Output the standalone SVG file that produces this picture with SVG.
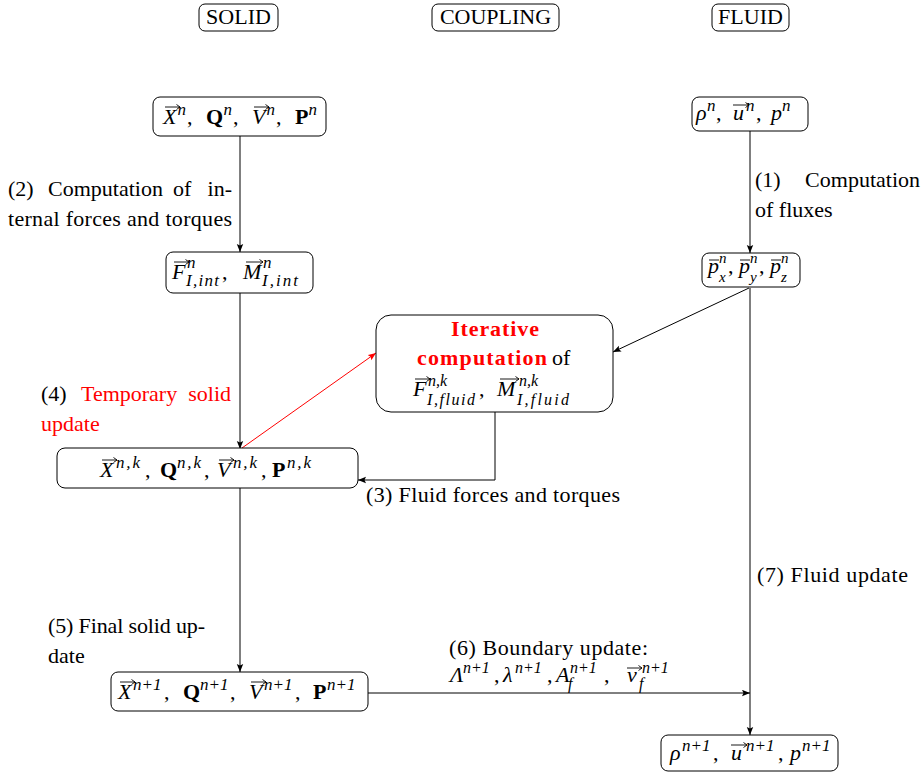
<svg xmlns="http://www.w3.org/2000/svg" width="924" height="774" viewBox="0 0 924 774">
<defs>
<style>
text{font-family:"Liberation Serif","Times New Roman",serif;font-size:22px;fill:#000}
.it{font-style:italic}
.b{font-weight:bold}
.s{font-size:17px}
.s16{font-size:16px}
.s15{font-size:15px}
.red{fill:#f00}
.box{fill:#fff;stroke:#000;stroke-width:1}
.conn{stroke:#000;stroke-width:1;fill:none}
.vec{stroke:#000;stroke-width:0.9;fill:none}
</style>
<marker id="ah" markerUnits="userSpaceOnUse" markerWidth="10" markerHeight="8" refX="8" refY="3.5" orient="auto"><path d="M0,0.3 L8,3.5 L0,6.7 L1.5,3.5z" fill="#000"/></marker>
<marker id="ahr" markerUnits="userSpaceOnUse" markerWidth="10" markerHeight="8" refX="8" refY="3.5" orient="auto"><path d="M0,0.3 L8,3.5 L0,6.7 L1.5,3.5z" fill="#f00"/></marker>
</defs>
<rect width="924" height="774" fill="#fff"/>

<g id="hdr-solid"><rect class="box" x="199" y="4" width="79" height="27" rx="6"/><text x="238.5" y="24" text-anchor="middle">SOLID</text></g>
<g id="hdr-coupling"><rect class="box" x="432" y="4" width="127" height="27" rx="6"/><text x="495.5" y="24" text-anchor="middle">COUPLING</text></g>
<g id="hdr-fluid"><rect class="box" x="712" y="4" width="77" height="27" rx="6"/><text x="750.5" y="24" text-anchor="middle">FLUID</text></g>

<g id="connectors">
<path class="conn" d="M240,136V252" marker-end="url(#ah)"/>
<path class="conn" d="M240,293V449" marker-end="url(#ah)"/>
<path class="conn" d="M750,131V253" marker-end="url(#ah)"/>
<path class="conn" d="M749,288L613,352" marker-end="url(#ah)"/>
<path class="conn" d="M242,448L376,353" style="stroke:#f00" marker-end="url(#ahr)"/>
<path class="conn" d="M495,412V480H358" marker-end="url(#ah)"/>
<path class="conn" d="M240,488V672" marker-end="url(#ah)"/>
<path class="conn" d="M750,288V735" marker-end="url(#ah)"/>
<path class="conn" d="M368,693H750" marker-end="url(#ah)"/>
</g>

<g id="n-solid-n">
<rect class="box" x="153" y="97" width="173" height="39" rx="7"/>
<text class="it" x="163" y="124">X</text><text class="it s" x="177.5" y="115">n</text><text x="187" y="124">,</text>
<text class="b" x="206" y="124">Q</text><text class="it s" x="223.5" y="115">n</text><text x="233" y="124">,</text>
<text class="it" x="252" y="124">V</text><text class="it s" x="266.5" y="115">n</text><text x="276" y="124">,</text>
<text class="b" x="295" y="124">P</text><text class="it s" x="308.5" y="115">n</text>
<path class="vec" d="M165,107H180M176.5,104.5L180,107L176.5,109.5M254,107H269M265.5,104.5L269,107L265.5,109.5"/>
</g>

<g id="n-fluid-n">
<rect class="box" x="692" y="97" width="116" height="34" rx="7"/>
<text class="it" x="696" y="120">ρ</text><text class="it s" x="707" y="111">n</text><text x="716" y="120">,</text>
<text class="it" x="733" y="120">u</text><text class="it s" x="746" y="111">n</text><text x="756" y="120">,</text>
<text class="it" x="771" y="120">p</text><text class="it s" x="782" y="111">n</text>
<path class="vec" d="M733,105H749M745.5,102.5L749,105L745.5,107.5"/>
</g>

<g id="n-internal">
<rect class="box" x="166" y="252" width="147" height="41" rx="7"/>
<text class="it" x="172" y="279">F</text><text class="it s" x="187" y="268">n</text><text class="it s" x="186" y="286" textLength="33">I,int</text><text x="222" y="279">,</text>
<text class="it" x="243" y="279">M</text><text class="it s" x="263" y="268">n</text><text class="it s" x="262" y="286" textLength="36">I,int</text>
<path class="vec" d="M174,262H189M185.5,259.5L189,262L185.5,264.5M246,262H263M259.5,259.5L263,262L259.5,264.5"/>
</g>

<g id="n-fluxes">
<rect class="box" x="702" y="253" width="98" height="34" rx="7"/>
<text class="it" x="708" y="273">p</text><text class="it s15" x="719" y="263">n</text><text class="it s15" x="719" y="282">x</text><text x="728" y="273">,</text>
<text class="it" x="739" y="273">p</text><text class="it s15" x="750" y="263">n</text><text class="it s15" x="750" y="282">y</text><text x="759" y="273">,</text>
<text class="it" x="770" y="273">p</text><text class="it s15" x="781" y="263">n</text><text class="it s15" x="781" y="282">z</text>
<path class="vec" d="M709,260H719M740,260H750M771,260H781"/>
</g>

<g id="n-iterative">
<rect class="box" x="376" y="315" width="237" height="97" rx="15"/>
<text class="b red" x="495" y="336" text-anchor="middle" textLength="88">Iterative</text>
<text class="b red" x="417" y="365" textLength="130">computation</text><text x="552" y="365">of</text>
<text class="it" x="413" y="396">F</text><text class="it s16" x="428" y="386">n,k</text><text class="it s16" x="427" y="405" textLength="48">I,fluid</text><text x="479" y="396">,</text>
<text class="it" x="497" y="396">M</text><text class="it s16" x="519" y="386">n,k</text><text class="it s16" x="517" y="405" textLength="52">I,fluid</text>
<path class="vec" d="M415,379H430M426.5,376.5L430,379L426.5,381.5M500,379H519M515.5,376.5L519,379L515.5,381.5"/>
</g>

<g id="n-solid-nk">
<rect class="box" x="57" y="448" width="301" height="40" rx="8"/>
<text class="it" x="100" y="477">X</text><text class="it s" x="116" y="468" textLength="24">n,k</text><text x="145" y="477">,</text>
<text class="b" x="160" y="477">Q</text><text class="it s" x="177" y="468" textLength="24">n,k</text><text x="204" y="477">,</text>
<text class="it" x="217" y="477">V</text><text class="it s" x="233" y="468" textLength="24">n,k</text><text x="261" y="477">,</text>
<text class="b" x="272" y="477">P</text><text class="it s" x="287" y="468" textLength="24">n,k</text>
<path class="vec" d="M102,460H117M113.5,457.5L117,460L113.5,462.5M219,460H234M230.5,457.5L234,460L230.5,462.5"/>
</g>

<g id="n-solid-n1">
<rect class="box" x="111" y="672" width="257" height="39" rx="7"/>
<text class="it" x="118" y="699">X</text><text class="it s" x="133" y="690">n+1</text><text x="164" y="699">,</text>
<text class="b" x="183" y="699">Q</text><text class="it s" x="200" y="690">n+1</text><text x="230" y="699">,</text>
<text class="it" x="249" y="699">V</text><text class="it s" x="264" y="690">n+1</text><text x="295" y="699">,</text>
<text class="b" x="313" y="699">P</text><text class="it s" x="327" y="690">n+1</text>
<path class="vec" d="M120,682H135M131.5,679.5L135,682L131.5,684.5M251,682H266M262.5,679.5L266,682L262.5,684.5"/>
</g>

<g id="n-fluid-n1">
<rect class="box" x="661" y="735" width="177" height="36" rx="7"/>
<text class="it" x="670" y="760">ρ</text><text class="it s" x="682" y="751">n+1</text><text x="713" y="760">,</text>
<text class="it" x="731" y="760">u</text><text class="it s" x="746" y="751">n+1</text><text x="778" y="760">,</text>
<text class="it" x="790" y="760">p</text><text class="it s" x="802" y="751">n+1</text>
<path class="vec" d="M731,745H747M743.5,742.5L747,745L743.5,747.5"/>
</g>

<g id="labels">
<text x="8" y="196">(2)</text><text x="48" y="196">Computation</text><text x="173" y="196">of</text><text x="232" y="196" text-anchor="end">in-</text>
<text x="8" y="226" textLength="224">ternal forces and torques</text>
<text x="755" y="187">(1)</text><text x="920" y="187" text-anchor="end">Computation</text>
<text x="755" y="217">of fluxes</text>
<text x="41" y="401">(4)</text><text class="red" x="81" y="401">Temporary</text><text class="red" x="231" y="401" text-anchor="end">solid</text>
<text class="red" x="41" y="431">update</text>
<text x="366" y="502" textLength="254">(3) Fluid forces and torques</text>
<text x="757" y="582" textLength="151">(7) Fluid update</text>
<text x="48" y="633" textLength="157">(5) Final solid up-</text>
<text x="48" y="663">date</text>
<text x="449" y="655" textLength="199">(6) Boundary update:</text>
<text class="it" x="450" y="682">Λ</text><text class="it s16" x="463" y="673">n+1</text><text x="494" y="682">,</text>
<text class="it" x="503" y="682">λ</text><text class="it s16" x="515" y="673">n+1</text><text x="547" y="682">,</text>
<text class="it" x="556" y="682">A</text><text class="it s16" x="570" y="673">n+1</text><text class="it s16" x="568" y="689">f</text><text x="604" y="682">,</text>
<text class="it" x="627" y="682">ν</text><text class="it s16" x="642" y="673">n+1</text><text class="it s16" x="639" y="689">f</text>
<path class="vec" d="M627,668H642M638.5,665.5L642,668L638.5,670.5"/>
</g>
</svg>
